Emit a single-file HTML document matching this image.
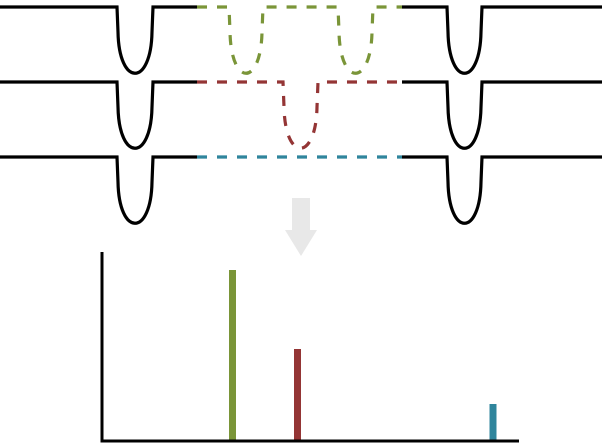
<!DOCTYPE html>
<html><head><meta charset="utf-8"><style>html,body{margin:0;padding:0;background:#fff}svg{display:block}</style></head>
<body>
<svg id="chart" width="602" height="445" viewBox="0 0 602 445" xmlns="http://www.w3.org/2000/svg">
<g id="traces" fill="none" stroke-width="3.2"></g>
<g fill="#e8e8e8">
<rect x="292" y="198" width="18" height="33"/>
<polygon points="285,230 317,230 301,256"/>
</g>
<g id="plot"></g>
</svg>
<script>
const categories = ["green-peak","red-peak","blue-peak"];
const positions = [130.5, 195.5, 391];
const values = [171, 92, 37];
const colors = ["#7a9538","#943535","#2f859c"];
const NS = "http://www.w3.org/2000/svg";
const xScale = v => 102 + v;
const yScale = v => 441 - v;
const plot = document.getElementById('plot');
function mk(tag, attrs, parent){const e=document.createElementNS(NS,tag);for(const k in attrs)e.setAttribute(k,attrs[k]);parent.appendChild(e);return e;}
categories.forEach((c,i)=>{
  const r = mk('rect',{x:xScale(positions[i])-3.5,y:yScale(values[i]),width:7,height:values[i],fill:colors[i]},plot);
  
  
});
const ya = mk('line',{x1:102,y1:252,x2:102,y2:442,stroke:'#000','stroke-width':3},plot);


const xa = mk('line',{x1:100.5,y1:441,x2:519,y2:441,stroke:'#000','stroke-width':3},plot);



const traces = document.getElementById('traces');
const rows = [7,82,157];
const dipsMid = [[229,263,338,373],[283,318],[]];
const rowColors = ["#7a9538","#943535","#2f859c"];
function dip(x1,x2,y){
  return `L${x1},${y} L${x1+1},${y+25} C${x1+2},${y+80} ${x2-2},${y+80} ${x2-1},${y+25} L${x2},${y}`;}
rows.forEach((y,i)=>{
  const l = mk('path',{d:`M0,${y} ${dip(117,153,y)} L197,${y}`,stroke:'#000'},traces);
  
  
  const r = mk('path',{d:`M402,${y} ${dip(447,482,y)} L602,${y}`,stroke:'#000'},traces);
  
  
  let d=`M197,${y} `;const dm=dipsMid[i];
  for(let k=0;k<dm.length;k+=2)d+=dip(dm[k],dm[k+1],y)+' ';
  d+=`L402,${y}`;
  const m = mk('path',{d:d,stroke:rowColors[i],'stroke-dasharray':'10,10'},traces);
  
  
});
</script>
</body></html>
